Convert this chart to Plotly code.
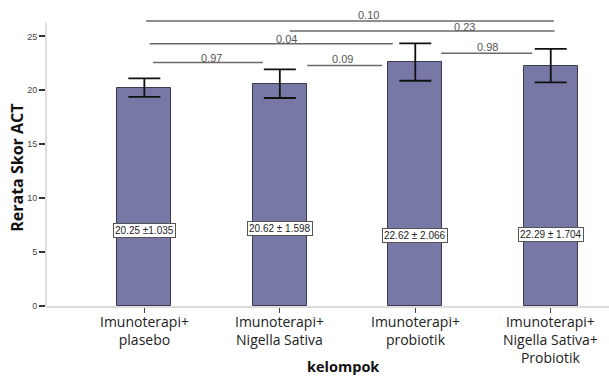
import plotly.graph_objects as go

categories = [["Imunoterapi+", "plasebo"],
              ["Imunoterapi+", "Nigella Sativa"],
              ["Imunoterapi+", "probiotik"],
              ["Imunoterapi+", "Nigella Sativa+", "Probiotik"]]
means = [20.25, 20.62, 22.62, 22.29]
err_half = [0.85, 1.33, 1.73, 1.56]
value_labels = ["20.25 ±1.035", "20.62 ± 1.598", "22.62 ± 2.066", "22.29 ± 1.704"]

# pairwise comparisons: (group a, group b, p-value)
comparisons = [(0, 3, "0.10"), (1, 3, "0.23"), (0, 2, "0.04"),
               (0, 1, "0.97"), (1, 2, "0.09"), (2, 3, "0.98")]

# layout geometry for comparison lines (x start, x end, y line, label x, label y)
comp_geom = [
    (0.013, 3.023, 26.44, 1.654, 27.0),
    (1.073, 3.028, 25.51, 2.366, 25.91),
    (0.039, 1.834, 24.31, 1.047, 24.77),
    (0.064, 0.874, 22.57, 0.495, 22.98),
    (1.202, 1.756, 22.30, 1.46, 22.92),
    (2.191, 2.863, 23.44, 2.531, 24.00),
]
label_y = [7.04, 7.15, 6.55, 6.62]

xs = list(range(len(categories)))

TOP, BOTTOM = 10, 306.5
PH = BOTTOM - TOP


def py_to_paper(py):
    return (BOTTOM - py) / PH


fig = go.Figure()
fig.add_trace(go.Bar(
    x=xs, y=means, width=0.4,
    marker=dict(color="#7878a6", line=dict(color="#3a3a50", width=1)),
    error_y=dict(type="data", array=err_half, visible=True,
                 color="#111111", thickness=1.8, width=16),
    showlegend=False, hoverinfo="skip",
))

shapes = []
annotations = []
for (a, b, p), (x0, x1, yl, lx, ly) in zip(comparisons, comp_geom):
    shapes.append(dict(type="line", xref="x", yref="y", x0=x0, x1=x1, y0=yl, y1=yl,
                       line=dict(color="#6a6a6a", width=1.5)))
    annotations.append(dict(x=lx, y=ly, xref="x", yref="y", text=p, showarrow=False,
                            font=dict(family="Liberation Sans, Arial", size=11, color="#555555")))

for x, ly, t in zip(xs, label_y, value_labels):
    annotations.append(dict(x=x, y=ly, xref="x", yref="y", text=t, showarrow=False,
                            bgcolor="white", bordercolor="#555555", borderwidth=1, borderpad=1,
                            font=dict(family="Liberation Sans, Arial", size=10, color="#222222")))

# category tick labels
for x, lines in zip(xs, categories):
    annotations.append(dict(x=x, xref="x", y=py_to_paper(312.0), yref="paper",
                            text="<br>".join(lines), showarrow=False,
                            xanchor="center", yanchor="top", align="center", borderpad=0,
                            font=dict(family="Open Sans", size=14, color="#222222")))

# y axis line (only up to ~26.3)
shapes.append(dict(type="line", xref="paper", yref="y", x0=0, x1=0, y0=0, y1=26.3,
                   line=dict(color="#d4d4d4", width=1.5)))

annotations.append(dict(x=-0.0505, y=py_to_paper(168.5), xref="paper", yref="paper",
                        text="<b>Rerata Skor ACT</b>",
                        textangle=-90, showarrow=False, xanchor="center", yanchor="middle",
                        font=dict(family="Open Sans", size=16, color="#111111")))
annotations.append(dict(x=0.528, y=py_to_paper(367), xref="paper", yref="paper", text="<b>kelompok</b>",
                        showarrow=False, xanchor="center", yanchor="middle",
                        font=dict(family="Open Sans", size=14.5, color="#111111")))

fig.update_layout(
    width=609, height=378,
    margin=dict(l=45.7, r=0, t=TOP, b=378 - BOTTOM, autoexpand=False),
    paper_bgcolor="white", plot_bgcolor="white",
    shapes=shapes, annotations=annotations,
    bargap=0,
    xaxis=dict(range=[-0.726, 3.43], tickvals=xs, showticklabels=False,
               showline=True, linecolor="#dcdcdc", linewidth=1.5,
               ticks="outside", ticklen=5, tickcolor="#444444", tickwidth=1.2,
               showgrid=False, zeroline=False, automargin=False),
    yaxis=dict(range=[0, 27.45], tickvals=[0, 5, 10, 15, 20, 25],
               showline=False, ticks="outside", ticklen=6, tickcolor="#333333", tickwidth=1.5,
               showgrid=False, zeroline=False, automargin=False,
               tickfont=dict(family="Liberation Sans, Arial", size=9, color="#444444")),
)

fig.write_html("out.html", config={"displayModeBar": False},
               post_script=("document.body.style.margin='0';document.body.style.padding='0';"
                            "document.body.style.overflow='hidden';"
                            "document.documentElement.style.overflow='hidden';"))
